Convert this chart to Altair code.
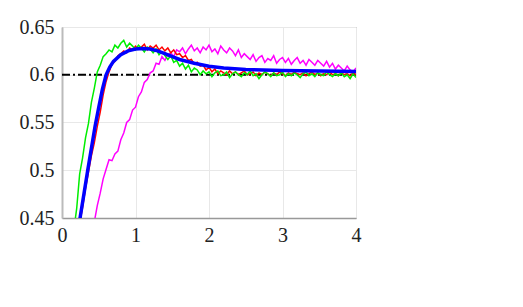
import altair as alt
import numpy as np
import pandas as pd

STEP = 0.04

green_t0 = 0.12
green = [0.410, 0.437, 0.460, 0.496, 0.513, 0.534, 0.549, 0.571, 0.586, 0.603,
         0.610, 0.619, 0.622, 0.626, 0.624, 0.631, 0.628, 0.633, 0.636, 0.629,
         0.633, 0.630, 0.626, 0.631, 0.628, 0.624, 0.629, 0.627, 0.623, 0.627,
         0.621, 0.624, 0.620, 0.616, 0.620, 0.613, 0.615, 0.609, 0.612, 0.606,
         0.610, 0.603, 0.607, 0.605, 0.600, 0.604, 0.601,
         0.603, 0.598, 0.602, 0.604, 0.599, 0.600, 0.603, 0.597, 0.601, 0.603,
         0.600, 0.598, 0.602, 0.600, 0.604, 0.599, 0.601, 0.596, 0.600, 0.603,
         0.601, 0.598, 0.602, 0.599, 0.600, 0.603, 0.598, 0.601, 0.599, 0.602,
         0.600, 0.597, 0.601, 0.603, 0.599, 0.601, 0.598, 0.602, 0.600, 0.599,
         0.603, 0.600, 0.598, 0.601, 0.599, 0.602, 0.598, 0.600, 0.596, 0.601,
         0.597]

red_t0 = 0.20
red = [0.425, 0.444, 0.461, 0.481, 0.498, 0.515, 0.529, 0.546, 0.561, 0.579,
       0.593, 0.603, 0.611, 0.614, 0.620, 0.622, 0.625, 0.623, 0.628, 0.626,
       0.630, 0.627, 0.629, 0.632, 0.626, 0.630, 0.628, 0.631, 0.626, 0.629,
       0.625, 0.628, 0.623, 0.626, 0.621, 0.622, 0.618, 0.620, 0.615, 0.616,
       0.611, 0.613, 0.609, 0.610, 0.605,
       0.608, 0.603, 0.606, 0.601, 0.604, 0.602, 0.600, 0.604, 0.601, 0.603,
       0.600, 0.602, 0.604, 0.600, 0.601, 0.603, 0.599, 0.602, 0.600, 0.603,
       0.601, 0.599, 0.602, 0.600, 0.603, 0.601, 0.599, 0.602, 0.600, 0.603,
       0.601, 0.600, 0.602, 0.599, 0.601, 0.603, 0.600, 0.602, 0.599, 0.601,
       0.600, 0.603, 0.600, 0.601, 0.599, 0.602, 0.600, 0.601, 0.599, 0.602,
       0.600]

magenta_t0 = 0.40
magenta = [0.432, 0.446, 0.463, 0.476, 0.491, 0.501, 0.511, 0.510, 0.517, 0.520,
           0.532, 0.539, 0.550, 0.553, 0.563, 0.566, 0.577, 0.582, 0.592, 0.595,
           0.602, 0.604, 0.612, 0.611, 0.619, 0.615, 0.621, 0.623, 0.619, 0.626,
           0.624, 0.628, 0.622, 0.627, 0.631, 0.625, 0.628, 0.623, 0.629, 0.626,
           0.631, 0.624, 0.627, 0.622, 0.630, 0.626, 0.623, 0.628, 0.625, 0.620,
           0.626, 0.618, 0.622, 0.619, 0.616, 0.621, 0.614, 0.618, 0.620, 0.613,
           0.617, 0.615, 0.620, 0.612, 0.616, 0.618, 0.613, 0.617, 0.611, 0.615,
           0.618, 0.612, 0.615, 0.610, 0.616, 0.613, 0.610, 0.615, 0.612, 0.609,
           0.614, 0.608, 0.612, 0.606, 0.610, 0.607, 0.604, 0.609, 0.605, 0.603,
           0.607]

blue_t = [0.20, 0.25, 0.30, 0.35, 0.40, 0.45, 0.50, 0.55, 0.60, 0.65, 0.70, 0.80,
          0.90, 1.00, 1.10, 1.20, 1.30, 1.40, 1.50, 1.60, 1.80, 2.00, 2.20, 2.50,
          3.00, 3.50, 4.00]
blue = [0.428, 0.452, 0.476, 0.500, 0.523, 0.546, 0.566, 0.585, 0.600, 0.608,
        0.614, 0.621, 0.625, 0.627, 0.6275, 0.627, 0.625, 0.622, 0.619, 0.616,
        0.612, 0.609, 0.607, 0.6055, 0.6045, 0.604, 0.6035]

ref_t = [0.0, 4.0]
ref = [0.6, 0.6]

x_ticks = [0, 1, 2, 3, 4]
y_ticks = [0.45, 0.5, 0.55, 0.6, 0.65]


def series(t0, vals, name):
    t = np.round(t0 + STEP * np.arange(len(vals)), 3)
    return pd.DataFrame({"t": t, "v": vals, "s": name})


df_g = series(green_t0, green, "g")
df_r = series(red_t0, red, "r")
df_m = series(magenta_t0, magenta, "m")
df_b = pd.DataFrame({"t": blue_t, "v": blue})
df_ref = pd.DataFrame({"t": ref_t, "v": ref})

FONT = "Liberation Serif"

xs = alt.Scale(domain=[0, 4], nice=False)
ys = alt.Scale(domain=[0.45, 0.65], nice=False)

x_axis = alt.Axis(values=x_ticks, title=None, grid=True, gridColor="#e8e8e8",
                  tickSize=0, labelPadding=7, domainColor="#999", domainWidth=1.5,
                  labelFlush=False)
y_axis = alt.Axis(values=y_ticks, title=None, grid=True, gridColor="#e8e8e8",
                  tickSize=0, labelPadding=8, domainColor="#bbb", domainWidth=2,
                  labelExpr="format(datum.value, '.2~f')", labelFlush=False)


def line(df, color, width, **kw):
    return alt.Chart(df).mark_line(color=color, strokeWidth=width, clip=True, **kw).encode(
        x=alt.X("t:Q", scale=xs, axis=x_axis),
        y=alt.Y("v:Q", scale=ys, axis=y_axis),
    )


chart = alt.layer(
    line(df_ref, "black", 2, strokeDash=[8, 3, 2, 3]),
    line(df_m, "#ff00ff", 1.5),
    line(df_r, "#ff0000", 1.5),
    line(df_g, "#00ee00", 1.5),
    line(df_b, "#0000ff", 3.5),
).properties(
    width=294, height=191,
    autosize=alt.AutoSizeParams(type="none"),
    padding={"left": 54, "top": 19, "right": 20, "bottom": 50},
).configure(font=FONT).configure_axis(
    labelFont=FONT, labelFontSize=20, labelColor="#222"
).configure_view(stroke="#888", strokeWidth=1)

chart.save("out.html", embed_options={"renderer": "svg", "actions": False})
